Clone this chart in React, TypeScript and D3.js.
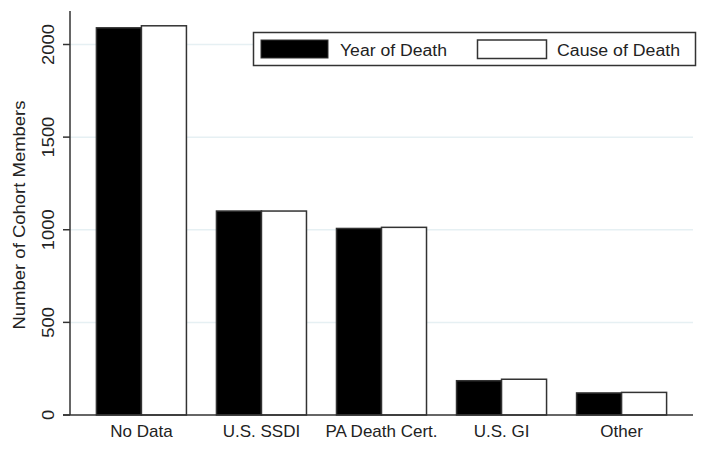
import * as d3 from "d3";

const categories = ["No Data", "U.S. SSDI", "PA Death Cert.", "U.S. GI", "Other"];
const yearOfDeath = [2090, 1101, 1007, 185, 119];
const causeOfDeath = [2101, 1101, 1013, 193, 122];
const yTicks = [0, 500, 1000, 1500, 2000];
const seriesNames = ["Year of Death", "Cause of Death"];

const width = 717;
const height = 452;
const margin = { left: 70, right: 24, top: 11, bottom: 37 };
const font = "'Liberation Sans', Arial, Helvetica, sans-serif";
const ink = "#222";

export default function App() {
  const x = d3
    .scaleBand<string>()
    .domain(categories)
    .range([margin.left, width - margin.right])
    .paddingInner(0.25)
    .paddingOuter(0.22);

  const sub = d3
    .scaleBand<string>()
    .domain(seriesNames)
    .range([0, x.bandwidth()]);

  // 0 at y=415, 2000 at y=44.5
  const y = d3.scaleLinear().domain([0, 2000]).range([415, 44.5]);

  const series = [
    { name: seriesNames[0], values: yearOfDeath, fill: "#000" },
    { name: seriesNames[1], values: causeOfDeath, fill: "#fff" },
  ];

  const x0 = margin.left;
  const x1 = width - margin.right;

  return (
    <svg
      width={width}
      height={height}
      style={{ position: "absolute", left: 0, top: 0, background: "#fff" }}
      fontFamily={font}
    >
      {/* gridlines */}
      {yTicks
        .filter((t) => t > 0)
        .map((t) => (
          <line
            key={"g" + t}
            x1={x0}
            x2={x1}
            y1={y(t)}
            y2={y(t)}
            stroke="#e6f0f3"
            strokeWidth={1.5}
          />
        ))}

      {/* bars */}
      {series.map((s) =>
        categories.map((c, i) => (
          <rect
            key={s.name + c}
            x={(x(c) ?? 0) + (sub(s.name) ?? 0)}
            y={y(s.values[i])}
            width={sub.bandwidth()}
            height={y(0) - y(s.values[i])}
            fill={s.fill}
            stroke="#333"
            strokeWidth={1.5}
          />
        ))
      )}

      {/* axes */}
      <line x1={x0} x2={x0} y1={margin.top} y2={y(0)} stroke="#333" strokeWidth={1.5} />
      <line x1={63} x2={x1} y1={y(0)} y2={y(0)} stroke="#333" strokeWidth={1.5} />
      {yTicks.map((t) => (
        <g key={"t" + t}>
          <line x1={63} x2={x0} y1={y(t)} y2={y(t)} stroke="#333" strokeWidth={1.5} />
          <text
            transform={`translate(54,${y(t)}) rotate(-90)`}
            textAnchor="middle"
            fontSize={17}
            fill={ink}
            textLength={String(t).length * 10.2}
            lengthAdjust="spacingAndGlyphs"
          >
            {t}
          </text>
        </g>
      ))}

      <text
        transform={`translate(25,${(margin.top + y(0)) / 2 + 2}) rotate(-90)`}
        textAnchor="middle"
        fontSize={16}
        fill={ink}
        textLength={229}
        lengthAdjust="spacingAndGlyphs"
      >
        Number of Cohort Members
      </text>

      {categories.map((c) => (
        <text
          key={"l" + c}
          x={(x(c) ?? 0) + x.bandwidth() / 2}
          y={437}
          textAnchor="middle"
          fontSize={17}
          fill={ink}
        >
          {c}
        </text>
      ))}

      {/* legend */}
      <g>
        <rect x={253.5} y={32.5} width={442} height={33} fill="#fff" stroke="#333" strokeWidth={1.5} />
        <rect x={261} y={40} width={67} height={18} fill="#000" stroke="#333" strokeWidth={1} />
        <text x={340} y={56} fontSize={16} fill={ink} textLength={107} lengthAdjust="spacingAndGlyphs">
          {seriesNames[0]}
        </text>
        <rect x={477.5} y={40} width={69} height={18.5} fill="#fff" stroke="#333" strokeWidth={1.5} />
        <text x={557} y={56} fontSize={16} fill={ink} textLength={123} lengthAdjust="spacingAndGlyphs">
          {seriesNames[1]}
        </text>
      </g>
    </svg>
  );
}
